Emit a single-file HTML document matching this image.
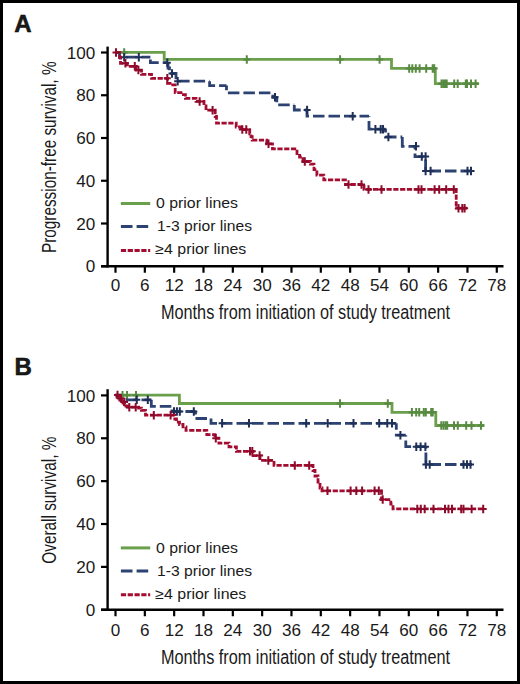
<!DOCTYPE html>
<html><head><meta charset="utf-8"><style>
html,body{margin:0;padding:0;background:#fff;overflow:hidden;width:520px;height:684px;}
svg{display:block;}
text{font-family:"Liberation Sans", sans-serif;fill:#1a1a1a;}
</style></head><body>
<svg width="520" height="684" viewBox="0 0 520 684">
<rect x="0" y="0" width="520" height="684" fill="#fff"/>
<path d="M107.6 46.6 V267.45" stroke="#000" stroke-width="2.4" fill="none"/><path d="M101 266.25 H503.5" stroke="#000" stroke-width="2.4" fill="none"/><path d="M101 52.50 H107.6" stroke="#000" stroke-width="2.2" fill="none"/><text transform="translate(95.3,58.70) scale(1.07,1)" text-anchor="end" font-size="16">100</text><path d="M101 95.25 H107.6" stroke="#000" stroke-width="2.2" fill="none"/><text transform="translate(95.3,101.45) scale(1.07,1)" text-anchor="end" font-size="16">80</text><path d="M101 138.00 H107.6" stroke="#000" stroke-width="2.2" fill="none"/><text transform="translate(95.3,144.20) scale(1.07,1)" text-anchor="end" font-size="16">60</text><path d="M101 180.75 H107.6" stroke="#000" stroke-width="2.2" fill="none"/><text transform="translate(95.3,186.95) scale(1.07,1)" text-anchor="end" font-size="16">40</text><path d="M101 223.50 H107.6" stroke="#000" stroke-width="2.2" fill="none"/><text transform="translate(95.3,229.70) scale(1.07,1)" text-anchor="end" font-size="16">20</text><path d="M101 266.25 H107.6" stroke="#000" stroke-width="2.2" fill="none"/><text transform="translate(95.3,272.45) scale(1.07,1)" text-anchor="end" font-size="16">0</text><path d="M115.50 266.25 V272.75" stroke="#000" stroke-width="2.2" fill="none"/><text transform="translate(115.50,291) scale(1.07,1)" text-anchor="middle" font-size="16">0</text><path d="M144.83 266.25 V272.75" stroke="#000" stroke-width="2.2" fill="none"/><text transform="translate(144.83,291) scale(1.07,1)" text-anchor="middle" font-size="16">6</text><path d="M174.16 266.25 V272.75" stroke="#000" stroke-width="2.2" fill="none"/><text transform="translate(174.16,291) scale(1.07,1)" text-anchor="middle" font-size="16">12</text><path d="M203.49 266.25 V272.75" stroke="#000" stroke-width="2.2" fill="none"/><text transform="translate(203.49,291) scale(1.07,1)" text-anchor="middle" font-size="16">18</text><path d="M232.82 266.25 V272.75" stroke="#000" stroke-width="2.2" fill="none"/><text transform="translate(232.82,291) scale(1.07,1)" text-anchor="middle" font-size="16">24</text><path d="M262.15 266.25 V272.75" stroke="#000" stroke-width="2.2" fill="none"/><text transform="translate(262.15,291) scale(1.07,1)" text-anchor="middle" font-size="16">30</text><path d="M291.48 266.25 V272.75" stroke="#000" stroke-width="2.2" fill="none"/><text transform="translate(291.48,291) scale(1.07,1)" text-anchor="middle" font-size="16">36</text><path d="M320.81 266.25 V272.75" stroke="#000" stroke-width="2.2" fill="none"/><text transform="translate(320.81,291) scale(1.07,1)" text-anchor="middle" font-size="16">42</text><path d="M350.14 266.25 V272.75" stroke="#000" stroke-width="2.2" fill="none"/><text transform="translate(350.14,291) scale(1.07,1)" text-anchor="middle" font-size="16">48</text><path d="M379.47 266.25 V272.75" stroke="#000" stroke-width="2.2" fill="none"/><text transform="translate(379.47,291) scale(1.07,1)" text-anchor="middle" font-size="16">54</text><path d="M408.80 266.25 V272.75" stroke="#000" stroke-width="2.2" fill="none"/><text transform="translate(408.80,291) scale(1.07,1)" text-anchor="middle" font-size="16">60</text><path d="M438.13 266.25 V272.75" stroke="#000" stroke-width="2.2" fill="none"/><text transform="translate(438.13,291) scale(1.07,1)" text-anchor="middle" font-size="16">66</text><path d="M467.46 266.25 V272.75" stroke="#000" stroke-width="2.2" fill="none"/><text transform="translate(467.46,291) scale(1.07,1)" text-anchor="middle" font-size="16">72</text><path d="M496.79 266.25 V272.75" stroke="#000" stroke-width="2.2" fill="none"/><text transform="translate(496.79,291) scale(1.07,1)" text-anchor="middle" font-size="16">78</text><text x="161" y="318.5" font-size="20" textLength="289" lengthAdjust="spacingAndGlyphs">Months from initiation of study treatment</text><text transform="translate(55.7,253) rotate(-90)" x="0" y="0" font-size="20" textLength="191.5" lengthAdjust="spacingAndGlyphs">Progression-free survival, %</text><text x="14.3" y="31.5" font-size="24" font-weight="bold" stroke="#000" stroke-width="0.5">A</text><path d="M120.8 203.5 H150.2" stroke="#6a9f4c" stroke-width="3" fill="none"/><path d="M120.9 226.5 H148.3" stroke="#2c4272" stroke-width="3" fill="none" stroke-dasharray="11.6 4.1"/><path d="M120.9 250.5 H150.2" stroke="#a30d31" stroke-width="3" fill="none" stroke-dasharray="5.2 1.6"/><text x="156" y="208" font-size="14.5" textLength="82" lengthAdjust="spacingAndGlyphs">0 prior lines</text><text x="157" y="231" font-size="14.5" textLength="95" lengthAdjust="spacingAndGlyphs">1-3 prior lines</text><text x="155.3" y="254" font-size="14.5" textLength="91" lengthAdjust="spacingAndGlyphs">≥4 prior lines</text><path d="M115.5 52.4 H164.2 V59.4 H391.5 V68.4 H435.3 V83.7 H479" stroke="#6a9f4c" stroke-width="2.8" fill="none" stroke-linejoin="miter" stroke-linecap="butt"/><path d="M124.2 48.15 V56.65 M120.7 52.4 H127.7" stroke="#588a42" stroke-width="2.0" fill="none"/><path d="M246.8 55.15 V63.65 M243.3 59.4 H250.3" stroke="#588a42" stroke-width="2.0" fill="none"/><path d="M340.1 55.15 V63.65 M336.6 59.4 H343.6" stroke="#588a42" stroke-width="2.0" fill="none"/><path d="M379.6 55.15 V63.65 M376.1 59.4 H383.1" stroke="#588a42" stroke-width="2.0" fill="none"/><path d="M409.2 64.15 V72.65 M405.7 68.4 H412.7" stroke="#588a42" stroke-width="2.0" fill="none"/><path d="M412.3 64.15 V72.65 M408.8 68.4 H415.8" stroke="#588a42" stroke-width="2.0" fill="none"/><path d="M415.8 64.15 V72.65 M412.3 68.4 H419.3" stroke="#588a42" stroke-width="2.0" fill="none"/><path d="M419.6 64.15 V72.65 M416.1 68.4 H423.1" stroke="#588a42" stroke-width="2.0" fill="none"/><path d="M426.2 64.15 V72.65 M422.7 68.4 H429.7" stroke="#588a42" stroke-width="2.0" fill="none"/><path d="M432.7 64.15 V72.65 M429.2 68.4 H436.2" stroke="#588a42" stroke-width="2.0" fill="none"/><path d="M434.2 64.15 V72.65 M430.7 68.4 H437.7" stroke="#588a42" stroke-width="2.0" fill="none"/><path d="M441.5 79.45 V87.95 M438.0 83.7 H445.0" stroke="#588a42" stroke-width="2.0" fill="none"/><path d="M443.2 79.45 V87.95 M439.7 83.7 H446.7" stroke="#588a42" stroke-width="2.0" fill="none"/><path d="M445 79.45 V87.95 M441.5 83.7 H448.5" stroke="#588a42" stroke-width="2.0" fill="none"/><path d="M446.7 79.45 V87.95 M443.2 83.7 H450.2" stroke="#588a42" stroke-width="2.0" fill="none"/><path d="M454.2 79.45 V87.95 M450.7 83.7 H457.7" stroke="#588a42" stroke-width="2.0" fill="none"/><path d="M457.7 79.45 V87.95 M454.2 83.7 H461.2" stroke="#588a42" stroke-width="2.0" fill="none"/><path d="M465.8 79.45 V87.95 M462.3 83.7 H469.3" stroke="#588a42" stroke-width="2.0" fill="none"/><path d="M467 79.45 V87.95 M463.5 83.7 H470.5" stroke="#588a42" stroke-width="2.0" fill="none"/><path d="M471 79.45 V87.95 M467.5 83.7 H474.5" stroke="#588a42" stroke-width="2.0" fill="none"/><path d="M475.6 79.45 V87.95 M472.1 83.7 H479.1" stroke="#588a42" stroke-width="2.0" fill="none"/><path d="M115.5 52.4 L119.5 52.4 L119.5 57.2 L150.4 57.2" stroke="#2c4272" stroke-width="2.8" fill="none" stroke-linejoin="miter" stroke-linecap="butt" stroke-dasharray="11.5 4.0" stroke-dashoffset="0.20"/><path d="M150.4 57.2 L150.4 62.7 L168 62.7" stroke="#2c4272" stroke-width="2.8" fill="none" stroke-linejoin="miter" stroke-linecap="butt" stroke-dasharray="11.5 4.0" stroke-dashoffset="13.20"/><path d="M168 62.7 L168 68 L169.5 68 L169.5 73.5 L176 73.5 L176 77.8 L178 77.8 L178 81.2 L209.6 81.2" stroke="#2c4272" stroke-width="2.8" fill="none" stroke-linejoin="miter" stroke-linecap="butt" stroke-dasharray="11.5 4.0" stroke-dashoffset="2.40"/><path d="M209.6 81.2 L209.6 85.6 L226.5 85.6" stroke="#2c4272" stroke-width="2.8" fill="none" stroke-linejoin="miter" stroke-linecap="butt" stroke-dasharray="11.5 4.0" stroke-dashoffset="1.60"/><path d="M226.5 85.6 L226.5 92.8 L272.8 92.8" stroke="#2c4272" stroke-width="2.8" fill="none" stroke-linejoin="miter" stroke-linecap="butt" stroke-dasharray="11.5 4.0" stroke-dashoffset="6.90"/><path d="M272.8 92.8 L272.8 97.3 L276.8 97.3 L276.8 104.9 L294.3 104.9" stroke="#2c4272" stroke-width="2.8" fill="none" stroke-linejoin="miter" stroke-linecap="butt" stroke-dasharray="11.5 4.0" stroke-dashoffset="13.50"/><path d="M294.3 104.9 L294.3 110 L307 110" stroke="#2c4272" stroke-width="2.8" fill="none" stroke-linejoin="miter" stroke-linecap="butt" stroke-dasharray="11.5 4.0" stroke-dashoffset="0.00"/><path d="M307 110 L307 116.2 L369 116.2" stroke="#2c4272" stroke-width="2.8" fill="none" stroke-linejoin="miter" stroke-linecap="butt" stroke-dasharray="11.5 4.0" stroke-dashoffset="3.30"/><path d="M369 116.2 L369 129.2 L385.5 129.2" stroke="#2c4272" stroke-width="2.8" fill="none" stroke-linejoin="miter" stroke-linecap="butt" stroke-dasharray="11.5 4.0" stroke-dashoffset="10.70"/><path d="M385.5 129.2 L385.5 137 L402.3 137" stroke="#2c4272" stroke-width="2.8" fill="none" stroke-linejoin="miter" stroke-linecap="butt" stroke-dasharray="11.5 4.0" stroke-dashoffset="8.20"/><path d="M402.3 137 L402.3 146.3 L415 146.3" stroke="#2c4272" stroke-width="2.8" fill="none" stroke-linejoin="miter" stroke-linecap="butt" stroke-dasharray="11.5 4.0" stroke-dashoffset="0.00"/><path d="M415 146.3 L415 156.6 L425.6 156.6" stroke="#2c4272" stroke-width="2.8" fill="none" stroke-linejoin="miter" stroke-linecap="butt" stroke-dasharray="11.5 4.0" stroke-dashoffset="8.30"/><path d="M425.6 156.6 L425.6 171 L474.5 171" stroke="#2c4272" stroke-width="2.8" fill="none" stroke-linejoin="miter" stroke-linecap="butt" stroke-dasharray="11.5 4.0" stroke-dashoffset="12.70"/><path d="M124.2 52.95 V61.45 M120.7 57.2 H127.7" stroke="#1e3058" stroke-width="2.0" fill="none"/><path d="M138.8 52.95 V61.45 M135.3 57.2 H142.3" stroke="#1e3058" stroke-width="2.0" fill="none"/><path d="M167.3 58.45 V66.95 M163.8 62.7 H170.8" stroke="#1e3058" stroke-width="2.0" fill="none"/><path d="M172 69.25 V77.75 M168.5 73.5 H175.5" stroke="#1e3058" stroke-width="2.0" fill="none"/><path d="M177.7 76.95 V85.45 M174.2 81.2 H181.2" stroke="#1e3058" stroke-width="2.0" fill="none"/><path d="M275 93.05 V101.55 M271.5 97.3 H278.5" stroke="#1e3058" stroke-width="2.0" fill="none"/><path d="M307.1 105.75 V114.25 M303.6 110 H310.6" stroke="#1e3058" stroke-width="2.0" fill="none"/><path d="M352.7 111.95 V120.45 M349.2 116.2 H356.2" stroke="#1e3058" stroke-width="2.0" fill="none"/><path d="M375.4 124.94999999999999 V133.45 M371.9 129.2 H378.9" stroke="#1e3058" stroke-width="2.0" fill="none"/><path d="M380.7 124.94999999999999 V133.45 M377.2 129.2 H384.2" stroke="#1e3058" stroke-width="2.0" fill="none"/><path d="M383 124.94999999999999 V133.45 M379.5 129.2 H386.5" stroke="#1e3058" stroke-width="2.0" fill="none"/><path d="M388.4 132.75 V141.25 M384.9 137 H391.9" stroke="#1e3058" stroke-width="2.0" fill="none"/><path d="M416 142.05 V150.55 M412.5 146.3 H419.5" stroke="#1e3058" stroke-width="2.0" fill="none"/><path d="M421.8 152.35 V160.85 M418.3 156.6 H425.3" stroke="#1e3058" stroke-width="2.0" fill="none"/><path d="M425.6 152.35 V160.85 M422.1 156.6 H429.1" stroke="#1e3058" stroke-width="2.0" fill="none"/><path d="M425.6 166.75 V175.25 M422.1 171 H429.1" stroke="#1e3058" stroke-width="2.0" fill="none"/><path d="M430.6 166.75 V175.25 M427.1 171 H434.1" stroke="#1e3058" stroke-width="2.0" fill="none"/><path d="M467.5 166.75 V175.25 M464.0 171 H471.0" stroke="#1e3058" stroke-width="2.0" fill="none"/><path d="M471 166.75 V175.25 M467.5 171 H474.5" stroke="#1e3058" stroke-width="2.0" fill="none"/><path d="M115.5 52.4 H119.6 V57.5 H120.5 V63.3 H127.3 V66.3 H136 V70.1 H141.5 V74.3 H151.5 V78.3 H167.5 V83.3 H172.8 V84.8 H175.2 V92.7 H181 V94.7 H185.4 V98.4 H196 V101.4 H204 V105.8 H206 V110.2 H215.2 V116.5 H216.5 V123.2 H236.2 V127 H241 V129.6 H249.7 V133.8 H251 V136.6 H252.2 V140.2 H266.8 V143.8 H272.5 V148.9 H297 V153.5 H299.6 V157 H303 V161.5 H310.5 V164.2 H314 V169.6 H316.9 V175.2 H323.8 V179.9 H345.4 V184.5 H364 V189.4 H456.2 V208.2 H467" stroke="#a30d31" stroke-width="2.8" fill="none" stroke-linejoin="miter" stroke-linecap="butt" stroke-dasharray="5.2 1.6"/><path d="M116 48.15 V56.65 M112.5 52.4 H119.5" stroke="#8e0a2b" stroke-width="2.0" fill="none"/><path d="M125.4 59.05 V67.55 M121.9 63.3 H128.9" stroke="#8e0a2b" stroke-width="2.0" fill="none"/><path d="M134.8 62.05 V70.55 M131.3 66.3 H138.3" stroke="#8e0a2b" stroke-width="2.0" fill="none"/><path d="M138.4 65.85 V74.35 M134.9 70.1 H141.9" stroke="#8e0a2b" stroke-width="2.0" fill="none"/><path d="M167.3 74.05 V82.55 M163.8 78.3 H170.8" stroke="#8e0a2b" stroke-width="2.0" fill="none"/><path d="M199.6 97.15 V105.65 M196.1 101.4 H203.1" stroke="#8e0a2b" stroke-width="2.0" fill="none"/><path d="M212.6 105.95 V114.45 M209.1 110.2 H216.1" stroke="#8e0a2b" stroke-width="2.0" fill="none"/><path d="M242.3 125.35 V133.85 M238.8 129.6 H245.8" stroke="#8e0a2b" stroke-width="2.0" fill="none"/><path d="M246.3 125.35 V133.85 M242.8 129.6 H249.8" stroke="#8e0a2b" stroke-width="2.0" fill="none"/><path d="M268.5 139.55 V148.05 M265.0 143.8 H272.0" stroke="#8e0a2b" stroke-width="2.0" fill="none"/><path d="M304.8 157.25 V165.75 M301.3 161.5 H308.3" stroke="#8e0a2b" stroke-width="2.0" fill="none"/><path d="M348.5 180.25 V188.75 M345.0 184.5 H352.0" stroke="#8e0a2b" stroke-width="2.0" fill="none"/><path d="M361.5 180.25 V188.75 M358.0 184.5 H365.0" stroke="#8e0a2b" stroke-width="2.0" fill="none"/><path d="M368.5 185.15 V193.65 M365.0 189.4 H372.0" stroke="#8e0a2b" stroke-width="2.0" fill="none"/><path d="M381.5 185.15 V193.65 M378.0 189.4 H385.0" stroke="#8e0a2b" stroke-width="2.0" fill="none"/><path d="M418.5 185.15 V193.65 M415.0 189.4 H422.0" stroke="#8e0a2b" stroke-width="2.0" fill="none"/><path d="M421.5 185.15 V193.65 M418.0 189.4 H425.0" stroke="#8e0a2b" stroke-width="2.0" fill="none"/><path d="M434.6 185.15 V193.65 M431.1 189.4 H438.1" stroke="#8e0a2b" stroke-width="2.0" fill="none"/><path d="M439.2 185.15 V193.65 M435.7 189.4 H442.7" stroke="#8e0a2b" stroke-width="2.0" fill="none"/><path d="M446.2 185.15 V193.65 M442.7 189.4 H449.7" stroke="#8e0a2b" stroke-width="2.0" fill="none"/><path d="M453.8 185.15 V193.65 M450.3 189.4 H457.3" stroke="#8e0a2b" stroke-width="2.0" fill="none"/><path d="M458.5 203.95 V212.45 M455.0 208.2 H462.0" stroke="#8e0a2b" stroke-width="2.0" fill="none"/><path d="M462.3 203.95 V212.45 M458.8 208.2 H465.8" stroke="#8e0a2b" stroke-width="2.0" fill="none"/><path d="M464.6 203.95 V212.45 M461.1 208.2 H468.1" stroke="#8e0a2b" stroke-width="2.0" fill="none"/><path d="M107.6 389.2 V610.95" stroke="#000" stroke-width="2.4" fill="none"/><path d="M101 609.75 H503.5" stroke="#000" stroke-width="2.4" fill="none"/><path d="M101 395.40 H107.6" stroke="#000" stroke-width="2.2" fill="none"/><text transform="translate(95.3,401.60) scale(1.07,1)" text-anchor="end" font-size="16">100</text><path d="M101 438.27 H107.6" stroke="#000" stroke-width="2.2" fill="none"/><text transform="translate(95.3,444.47) scale(1.07,1)" text-anchor="end" font-size="16">80</text><path d="M101 481.14 H107.6" stroke="#000" stroke-width="2.2" fill="none"/><text transform="translate(95.3,487.34) scale(1.07,1)" text-anchor="end" font-size="16">60</text><path d="M101 524.01 H107.6" stroke="#000" stroke-width="2.2" fill="none"/><text transform="translate(95.3,530.21) scale(1.07,1)" text-anchor="end" font-size="16">40</text><path d="M101 566.88 H107.6" stroke="#000" stroke-width="2.2" fill="none"/><text transform="translate(95.3,573.08) scale(1.07,1)" text-anchor="end" font-size="16">20</text><path d="M101 609.75 H107.6" stroke="#000" stroke-width="2.2" fill="none"/><text transform="translate(95.3,615.95) scale(1.07,1)" text-anchor="end" font-size="16">0</text><path d="M115.50 609.75 V616.25" stroke="#000" stroke-width="2.2" fill="none"/><text transform="translate(115.50,636.3) scale(1.07,1)" text-anchor="middle" font-size="16">0</text><path d="M144.83 609.75 V616.25" stroke="#000" stroke-width="2.2" fill="none"/><text transform="translate(144.83,636.3) scale(1.07,1)" text-anchor="middle" font-size="16">6</text><path d="M174.16 609.75 V616.25" stroke="#000" stroke-width="2.2" fill="none"/><text transform="translate(174.16,636.3) scale(1.07,1)" text-anchor="middle" font-size="16">12</text><path d="M203.49 609.75 V616.25" stroke="#000" stroke-width="2.2" fill="none"/><text transform="translate(203.49,636.3) scale(1.07,1)" text-anchor="middle" font-size="16">18</text><path d="M232.82 609.75 V616.25" stroke="#000" stroke-width="2.2" fill="none"/><text transform="translate(232.82,636.3) scale(1.07,1)" text-anchor="middle" font-size="16">24</text><path d="M262.15 609.75 V616.25" stroke="#000" stroke-width="2.2" fill="none"/><text transform="translate(262.15,636.3) scale(1.07,1)" text-anchor="middle" font-size="16">30</text><path d="M291.48 609.75 V616.25" stroke="#000" stroke-width="2.2" fill="none"/><text transform="translate(291.48,636.3) scale(1.07,1)" text-anchor="middle" font-size="16">36</text><path d="M320.81 609.75 V616.25" stroke="#000" stroke-width="2.2" fill="none"/><text transform="translate(320.81,636.3) scale(1.07,1)" text-anchor="middle" font-size="16">42</text><path d="M350.14 609.75 V616.25" stroke="#000" stroke-width="2.2" fill="none"/><text transform="translate(350.14,636.3) scale(1.07,1)" text-anchor="middle" font-size="16">48</text><path d="M379.47 609.75 V616.25" stroke="#000" stroke-width="2.2" fill="none"/><text transform="translate(379.47,636.3) scale(1.07,1)" text-anchor="middle" font-size="16">54</text><path d="M408.80 609.75 V616.25" stroke="#000" stroke-width="2.2" fill="none"/><text transform="translate(408.80,636.3) scale(1.07,1)" text-anchor="middle" font-size="16">60</text><path d="M438.13 609.75 V616.25" stroke="#000" stroke-width="2.2" fill="none"/><text transform="translate(438.13,636.3) scale(1.07,1)" text-anchor="middle" font-size="16">66</text><path d="M467.46 609.75 V616.25" stroke="#000" stroke-width="2.2" fill="none"/><text transform="translate(467.46,636.3) scale(1.07,1)" text-anchor="middle" font-size="16">72</text><path d="M496.79 609.75 V616.25" stroke="#000" stroke-width="2.2" fill="none"/><text transform="translate(496.79,636.3) scale(1.07,1)" text-anchor="middle" font-size="16">78</text><text x="161" y="663.8" font-size="20" textLength="289" lengthAdjust="spacingAndGlyphs">Months from initiation of study treatment</text><text transform="translate(55.9,563.7) rotate(-90)" x="0" y="0" font-size="20" textLength="127" lengthAdjust="spacingAndGlyphs">Overall survival, %</text><text x="14.4" y="375" font-size="24" font-weight="bold" stroke="#000" stroke-width="0.5">B</text><path d="M120.8 547.9 H150.2" stroke="#6a9f4c" stroke-width="3" fill="none"/><path d="M120.9 571 H148.3" stroke="#2c4272" stroke-width="3" fill="none" stroke-dasharray="11.6 4.1"/><path d="M120.9 594.7 H150.2" stroke="#a30d31" stroke-width="3" fill="none" stroke-dasharray="5.2 1.6"/><text x="156" y="552.5" font-size="14.5" textLength="82" lengthAdjust="spacingAndGlyphs">0 prior lines</text><text x="157" y="575.5" font-size="14.5" textLength="95" lengthAdjust="spacingAndGlyphs">1-3 prior lines</text><text x="155.3" y="599" font-size="14.5" textLength="91" lengthAdjust="spacingAndGlyphs">≥4 prior lines</text><path d="M115.5 395.2 H179.4 V403.5 H392 V412.3 H435.8 V425.5 H484.2" stroke="#6a9f4c" stroke-width="2.8" fill="none" stroke-linejoin="miter" stroke-linecap="butt"/><path d="M122.5 390.95 V399.45 M119.0 395.2 H126.0" stroke="#588a42" stroke-width="2.0" fill="none"/><path d="M127 390.95 V399.45 M123.5 395.2 H130.5" stroke="#588a42" stroke-width="2.0" fill="none"/><path d="M136 390.95 V399.45 M132.5 395.2 H139.5" stroke="#588a42" stroke-width="2.0" fill="none"/><path d="M340 399.25 V407.75 M336.5 403.5 H343.5" stroke="#588a42" stroke-width="2.0" fill="none"/><path d="M387.8 399.25 V407.75 M384.3 403.5 H391.3" stroke="#588a42" stroke-width="2.0" fill="none"/><path d="M411.9 408.05 V416.55 M408.4 412.3 H415.4" stroke="#588a42" stroke-width="2.0" fill="none"/><path d="M416.2 408.05 V416.55 M412.7 412.3 H419.7" stroke="#588a42" stroke-width="2.0" fill="none"/><path d="M419.2 408.05 V416.55 M415.7 412.3 H422.7" stroke="#588a42" stroke-width="2.0" fill="none"/><path d="M423.8 408.05 V416.55 M420.3 412.3 H427.3" stroke="#588a42" stroke-width="2.0" fill="none"/><path d="M425.8 408.05 V416.55 M422.3 412.3 H429.3" stroke="#588a42" stroke-width="2.0" fill="none"/><path d="M431.2 408.05 V416.55 M427.7 412.3 H434.7" stroke="#588a42" stroke-width="2.0" fill="none"/><path d="M432.7 408.05 V416.55 M429.2 412.3 H436.2" stroke="#588a42" stroke-width="2.0" fill="none"/><path d="M441.3 421.25 V429.75 M437.8 425.5 H444.8" stroke="#588a42" stroke-width="2.0" fill="none"/><path d="M443.5 421.25 V429.75 M440.0 425.5 H447.0" stroke="#588a42" stroke-width="2.0" fill="none"/><path d="M445.6 421.25 V429.75 M442.1 425.5 H449.1" stroke="#588a42" stroke-width="2.0" fill="none"/><path d="M447.2 421.25 V429.75 M443.7 425.5 H450.7" stroke="#588a42" stroke-width="2.0" fill="none"/><path d="M454 421.25 V429.75 M450.5 425.5 H457.5" stroke="#588a42" stroke-width="2.0" fill="none"/><path d="M457.8 421.25 V429.75 M454.3 425.5 H461.3" stroke="#588a42" stroke-width="2.0" fill="none"/><path d="M466.2 421.25 V429.75 M462.7 425.5 H469.7" stroke="#588a42" stroke-width="2.0" fill="none"/><path d="M471.5 421.25 V429.75 M468.0 425.5 H475.0" stroke="#588a42" stroke-width="2.0" fill="none"/><path d="M481 421.25 V429.75 M477.5 425.5 H484.5" stroke="#588a42" stroke-width="2.0" fill="none"/><path d="M115.5 395.2 L120 395.2 L120 399.8 L151.3 399.8" stroke="#2c4272" stroke-width="2.8" fill="none" stroke-linejoin="miter" stroke-linecap="butt" stroke-dasharray="11.5 4.0" stroke-dashoffset="0.40"/><path d="M151.3 399.8 L151.3 406.3 L172 406.3" stroke="#2c4272" stroke-width="2.8" fill="none" stroke-linejoin="miter" stroke-linecap="butt" stroke-dasharray="11.5 4.0" stroke-dashoffset="0.50"/><path d="M172 406.3 L172 411.5 L195.5 411.5" stroke="#2c4272" stroke-width="2.8" fill="none" stroke-linejoin="miter" stroke-linecap="butt" stroke-dasharray="11.5 4.0" stroke-dashoffset="12.40"/><path d="M195.5 411.5 L195.5 418.5 L211 418.5" stroke="#2c4272" stroke-width="2.8" fill="none" stroke-linejoin="miter" stroke-linecap="butt" stroke-dasharray="11.5 4.0" stroke-dashoffset="8.50"/><path d="M211 418.5 L211 423.3 L396.3 423.3" stroke="#2c4272" stroke-width="2.8" fill="none" stroke-linejoin="miter" stroke-linecap="butt" stroke-dasharray="11.5 4.0" stroke-dashoffset="0.70"/><path d="M396.3 423.3 L396.3 435.2 L405.8 435.2" stroke="#2c4272" stroke-width="2.8" fill="none" stroke-linejoin="miter" stroke-linecap="butt" stroke-dasharray="11.5 4.0" stroke-dashoffset="5.00"/><path d="M405.8 435.2 L405.8 446.7 L425.9 446.7" stroke="#2c4272" stroke-width="2.8" fill="none" stroke-linejoin="miter" stroke-linecap="butt" stroke-dasharray="11.5 4.0" stroke-dashoffset="10.20"/><path d="M425.9 446.7 L425.9 464.5 L472.8 464.5" stroke="#2c4272" stroke-width="2.8" fill="none" stroke-linejoin="miter" stroke-linecap="butt" stroke-dasharray="11.5 4.0" stroke-dashoffset="9.60"/><path d="M136.8 395.55 V404.05 M133.3 399.8 H140.3" stroke="#1e3058" stroke-width="2.0" fill="none"/><path d="M147.8 395.55 V404.05 M144.3 399.8 H151.3" stroke="#1e3058" stroke-width="2.0" fill="none"/><path d="M174 407.25 V415.75 M170.5 411.5 H177.5" stroke="#1e3058" stroke-width="2.0" fill="none"/><path d="M176.9 407.25 V415.75 M173.4 411.5 H180.4" stroke="#1e3058" stroke-width="2.0" fill="none"/><path d="M179.8 407.25 V415.75 M176.3 411.5 H183.3" stroke="#1e3058" stroke-width="2.0" fill="none"/><path d="M193.8 407.25 V415.75 M190.3 411.5 H197.3" stroke="#1e3058" stroke-width="2.0" fill="none"/><path d="M222.1 419.05 V427.55 M218.6 423.3 H225.6" stroke="#1e3058" stroke-width="2.0" fill="none"/><path d="M249 419.05 V427.55 M245.5 423.3 H252.5" stroke="#1e3058" stroke-width="2.0" fill="none"/><path d="M306.2 419.05 V427.55 M302.7 423.3 H309.7" stroke="#1e3058" stroke-width="2.0" fill="none"/><path d="M327.7 419.05 V427.55 M324.2 423.3 H331.2" stroke="#1e3058" stroke-width="2.0" fill="none"/><path d="M353.5 419.05 V427.55 M350.0 423.3 H357.0" stroke="#1e3058" stroke-width="2.0" fill="none"/><path d="M379.2 419.05 V427.55 M375.7 423.3 H382.7" stroke="#1e3058" stroke-width="2.0" fill="none"/><path d="M387.3 419.05 V427.55 M383.8 423.3 H390.8" stroke="#1e3058" stroke-width="2.0" fill="none"/><path d="M392 419.05 V427.55 M388.5 423.3 H395.5" stroke="#1e3058" stroke-width="2.0" fill="none"/><path d="M400.4 430.95 V439.45 M396.9 435.2 H403.9" stroke="#1e3058" stroke-width="2.0" fill="none"/><path d="M416.3 442.45 V450.95 M412.8 446.7 H419.8" stroke="#1e3058" stroke-width="2.0" fill="none"/><path d="M420.6 442.45 V450.95 M417.1 446.7 H424.1" stroke="#1e3058" stroke-width="2.0" fill="none"/><path d="M425.4 442.45 V450.95 M421.9 446.7 H428.9" stroke="#1e3058" stroke-width="2.0" fill="none"/><path d="M425.9 460.25 V468.75 M422.4 464.5 H429.4" stroke="#1e3058" stroke-width="2.0" fill="none"/><path d="M429.7 460.25 V468.75 M426.2 464.5 H433.2" stroke="#1e3058" stroke-width="2.0" fill="none"/><path d="M463.5 460.25 V468.75 M460.0 464.5 H467.0" stroke="#1e3058" stroke-width="2.0" fill="none"/><path d="M467 460.25 V468.75 M463.5 464.5 H470.5" stroke="#1e3058" stroke-width="2.0" fill="none"/><path d="M470.5 460.25 V468.75 M467.0 464.5 H474.0" stroke="#1e3058" stroke-width="2.0" fill="none"/><path d="M115.5 395.2 H117 V397 H118.5 V398.5 H120 V400 H121.5 V401.5 H123 V403 H124.5 V404.5 H126 V406 H127.5 V407.2 H138.6 V408.2 H141.4 V410.3 H145.5 V415.2 H174.8 V419 H176.5 V422.2 H179.5 V424.5 H183 V426.8 H186 V430.3 H206.8 V434.6 H214.9 V438.2 H218.9 V443.2 H229 V446.8 H236.4 V451.3 H253 V455.6 H260 V460.4 H274 V465.4 H313 V470.5 H315 V476 H318 V482 H320 V488 H322 V490.8 H381.5 V499.6 H390.8 V504.2 H393 V508.9 H484.3" stroke="#a30d31" stroke-width="2.8" fill="none" stroke-linejoin="miter" stroke-linecap="butt" stroke-dasharray="5.2 1.6"/><path d="M117.5 390.75 V399.25 M114.0 395 H121.0" stroke="#8e0a2b" stroke-width="2.0" fill="none"/><path d="M121 394.25 V402.75 M117.5 398.5 H124.5" stroke="#8e0a2b" stroke-width="2.0" fill="none"/><path d="M124.5 397.75 V406.25 M121.0 402 H128.0" stroke="#8e0a2b" stroke-width="2.0" fill="none"/><path d="M129.3 402.95 V411.45 M125.80000000000001 407.2 H132.8" stroke="#8e0a2b" stroke-width="2.0" fill="none"/><path d="M135.7 402.95 V411.45 M132.2 407.2 H139.2" stroke="#8e0a2b" stroke-width="2.0" fill="none"/><path d="M153.8 410.95 V419.45 M150.3 415.2 H157.3" stroke="#8e0a2b" stroke-width="2.0" fill="none"/><path d="M170.6 410.95 V419.45 M167.1 415.2 H174.1" stroke="#8e0a2b" stroke-width="2.0" fill="none"/><path d="M215.8 434.05 V442.55 M212.3 438.3 H219.3" stroke="#8e0a2b" stroke-width="2.0" fill="none"/><path d="M250 447.05 V455.55 M246.5 451.3 H253.5" stroke="#8e0a2b" stroke-width="2.0" fill="none"/><path d="M252.3 447.05 V455.55 M248.8 451.3 H255.8" stroke="#8e0a2b" stroke-width="2.0" fill="none"/><path d="M259.6 451.35 V459.85 M256.1 455.6 H263.1" stroke="#8e0a2b" stroke-width="2.0" fill="none"/><path d="M268.3 456.15 V464.65 M264.8 460.4 H271.8" stroke="#8e0a2b" stroke-width="2.0" fill="none"/><path d="M294.8 461.15 V469.65 M291.3 465.4 H298.3" stroke="#8e0a2b" stroke-width="2.0" fill="none"/><path d="M309.2 461.15 V469.65 M305.7 465.4 H312.7" stroke="#8e0a2b" stroke-width="2.0" fill="none"/><path d="M327.5 486.55 V495.05 M324.0 490.8 H331.0" stroke="#8e0a2b" stroke-width="2.0" fill="none"/><path d="M350.6 486.55 V495.05 M347.1 490.8 H354.1" stroke="#8e0a2b" stroke-width="2.0" fill="none"/><path d="M356.3 486.55 V495.05 M352.8 490.8 H359.8" stroke="#8e0a2b" stroke-width="2.0" fill="none"/><path d="M362.1 486.55 V495.05 M358.6 490.8 H365.6" stroke="#8e0a2b" stroke-width="2.0" fill="none"/><path d="M374.6 486.55 V495.05 M371.1 490.8 H378.1" stroke="#8e0a2b" stroke-width="2.0" fill="none"/><path d="M378.8 486.55 V495.05 M375.3 490.8 H382.3" stroke="#8e0a2b" stroke-width="2.0" fill="none"/><path d="M382.7 495.35 V503.85 M379.2 499.6 H386.2" stroke="#8e0a2b" stroke-width="2.0" fill="none"/><path d="M417.3 504.65 V513.15 M413.8 508.9 H420.8" stroke="#8e0a2b" stroke-width="2.0" fill="none"/><path d="M420.8 504.65 V513.15 M417.3 508.9 H424.3" stroke="#8e0a2b" stroke-width="2.0" fill="none"/><path d="M424.7 504.65 V513.15 M421.2 508.9 H428.2" stroke="#8e0a2b" stroke-width="2.0" fill="none"/><path d="M433.5 504.65 V513.15 M430.0 508.9 H437.0" stroke="#8e0a2b" stroke-width="2.0" fill="none"/><path d="M445 504.65 V513.15 M441.5 508.9 H448.5" stroke="#8e0a2b" stroke-width="2.0" fill="none"/><path d="M448.5 504.65 V513.15 M445.0 508.9 H452.0" stroke="#8e0a2b" stroke-width="2.0" fill="none"/><path d="M452 504.65 V513.15 M448.5 508.9 H455.5" stroke="#8e0a2b" stroke-width="2.0" fill="none"/><path d="M461.2 504.65 V513.15 M457.7 508.9 H464.7" stroke="#8e0a2b" stroke-width="2.0" fill="none"/><path d="M463.5 504.65 V513.15 M460.0 508.9 H467.0" stroke="#8e0a2b" stroke-width="2.0" fill="none"/><path d="M471.6 504.65 V513.15 M468.1 508.9 H475.1" stroke="#8e0a2b" stroke-width="2.0" fill="none"/><path d="M483.2 504.65 V513.15 M479.7 508.9 H486.7" stroke="#8e0a2b" stroke-width="2.0" fill="none"/>
<rect x="1.5" y="1.5" width="517" height="681" fill="none" stroke="#000" stroke-width="3"/>
</svg>
</body></html>
